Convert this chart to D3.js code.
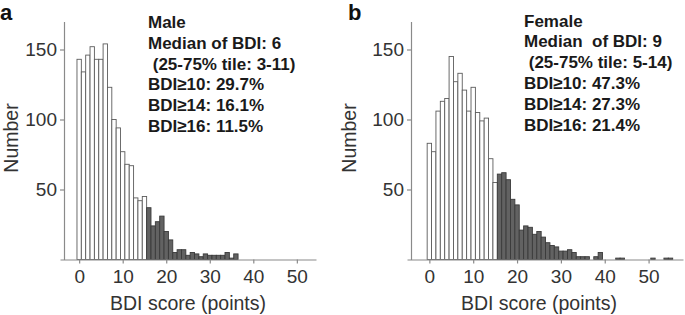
<!doctype html>
<html>
<head>
<meta charset="utf-8">
<script src="https://d3js.org/d3.v7.min.js"></script>
<style>
  body { margin: 0; background: #fff; }
  svg text { font-family: "Liberation Sans", Arial, sans-serif; }
  .stats text { white-space: pre; }
</style>
</head>
<body>
<script>
// counts per BDI score (index = score)
const maleCounts = [143, 134, 146, 152, 143, 143, 154, 123, 100, 94, 77, 68, 67, 44, 42, 45,
  37, 24, 27, 31, 20, 14, 5, 7, 7, 3, 5, 4, 2, 4, 3, 3, 3, 3, 5, 1, 4];
const femaleCounts = [83, 77, 106, 113, 115, 145, 127, 133, 121, 106, 123, 105, 99, 101, 72, 55,
  61, 62, 57, 43, 39, 21, 24, 23, 18, 20, 16, 12, 10, 9, 6, 6, 7, 5, 2, 2, 2, 0, 2, 5,
  0, 0, 0, 1, 1, 0, 0, 0, 0, 0, 0, 1, 0, 0, 1, 1];
const maleStats = ["Male", "Median of BDI: 6", " (25-75% tile: 3-11)", "BDI\u226510: 29.7%", "BDI\u226514: 16.1%", "BDI\u226516: 11.5%"];
const femaleStats = ["Female", "Median  of BDI: 9", " (25-75% tile: 5-14)", "BDI\u226510: 47.3%", "BDI\u226514: 27.3%", "BDI\u226516: 21.4%"];
const xTicks = [0, 10, 20, 30, 40, 50];
const yTicks = [50, 100, 150];
const cutoff = 16; // scores >= cutoff drawn dark

const width = 685, height = 315;
const svg = d3.select("body").append("svg")
  .attr("width", width)
  .attr("height", height);

const y = d3.scaleLinear().domain([0, 170]).range([259.5, 21.5]);

const panels = [
  { letter: "a", counts: maleCounts, stats: maleStats, xDomain: [-4.4, 54.4], xRange: [60, 316],
    axisX: 64, letterX: 0, labelX: 18, textX: 148, textY: 28 },
  { letter: "b", counts: femaleCounts, stats: femaleStats, xDomain: [-5.1, 57.85], xRange: [407, 683],
    axisX: 411, letterX: 348, labelX: 356, textX: 524, textY: 26.5 }
];

panels.forEach(p => {
  const x = d3.scaleLinear().domain(p.xDomain).range(p.xRange);
  const g = svg.append("g");

  // bars
  g.selectAll("rect")
    .data(p.counts.map((c, i) => ({ score: i, count: c })).filter(d => d.count > 0))
    .enter()
    .append("rect")
    .attr("x", d => x(d.score - 0.5))
    .attr("width", d => x(d.score + 0.5) - x(d.score - 0.5))
    .attr("y", d => y(d.count))
    .attr("height", d => y(0) - y(d.count))
    .attr("fill", d => d.score >= cutoff ? "#626262" : "#fff")
    .attr("stroke", d => d.score >= cutoff ? "#3a3a3a" : "#5c5c5c")
    .attr("stroke-width", 0.9);

  // x axis
  const xAxis = g.append("g")
    .attr("transform", `translate(0,${y(0)})`)
    .call(d3.axisBottom(x).tickValues(xTicks).tickSize(4).tickPadding(6).tickSizeOuter(0));

  // y axis
  const yAxis = g.append("g")
    .attr("transform", `translate(${p.axisX},0)`)
    .call(d3.axisLeft(y).tickValues(yTicks).tickSize(4).tickPadding(3).tickSizeOuter(0));

  [xAxis, yAxis].forEach(a => {
    a.select(".domain").attr("stroke", "#8a8a8a").attr("stroke-width", 1.2);
    a.selectAll(".tick line").attr("stroke", "#8a8a8a").attr("stroke-width", 1.2);
    a.selectAll(".tick text")
      .attr("fill", "#333")
      .style("font-size", "19px");
  });

  // axis titles
  g.append("text")
    .attr("x", x(25))
    .attr("y", 310)
    .attr("text-anchor", "middle")
    .attr("fill", "#333")
    .style("font-size", "19.5px")
    .text("BDI score (points)");

  g.append("text")
    .attr("transform", `translate(${p.labelX},138) rotate(-90)`)
    .attr("text-anchor", "middle")
    .attr("fill", "#333")
    .style("font-size", "19.5px")
    .text("Number");

  // panel letter
  g.append("text")
    .attr("x", p.letterX)
    .attr("y", 20)
    .attr("fill", "#111")
    .style("font-size", "22px")
    .style("font-weight", "bold")
    .text(p.letter);

  // summary text
  g.append("g").attr("class", "stats")
    .selectAll("text")
    .data(p.stats)
    .enter()
    .append("text")
    .attr("x", p.textX)
    .attr("y", (d, i) => p.textY + i * 20.8)
    .attr("fill", "#1a1a1a")
    .style("font-size", "17px")
    .style("font-weight", "bold")
    .text(d => d);
});
</script>
</body>
</html>
